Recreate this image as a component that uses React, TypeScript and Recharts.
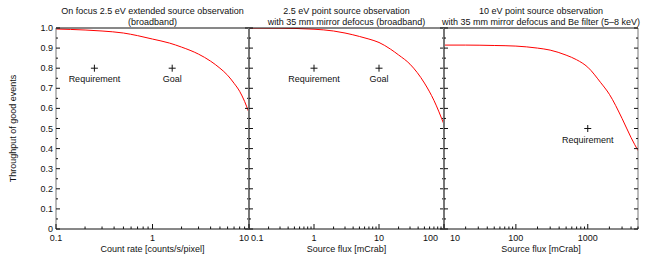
import React from "react";
import { ComposedChart, Label, Line, Scatter, XAxis, YAxis } from "recharts";

// panel 1: on focus, extended source
const p1Rate = [0.1, 0.2, 0.3, 0.5, 0.7, 1, 1.5, 2, 3, 4, 5, 6, 7, 8, 9, 10];
const p1Throughput = [0.995, 0.99, 0.985, 0.975, 0.962, 0.945, 0.925, 0.905, 0.87, 0.835, 0.8, 0.765, 0.725, 0.685, 0.635, 0.578];

// panel 2: 35 mm defocus, broadband
const p2Flux = [0.1, 0.3, 1, 2, 3, 5, 7, 10, 15, 20, 30, 50, 70, 100];
const p2Throughput = [1.0, 0.999, 0.994, 0.985, 0.975, 0.958, 0.945, 0.928, 0.895, 0.866, 0.82, 0.726, 0.64, 0.52];

// panel 3: 35 mm defocus + Be filter
const p3Flux = [10, 20, 50, 100, 200, 300, 500, 700, 1000, 1500, 2000, 3000, 4000, 5000];
const p3Throughput = [0.915, 0.915, 0.913, 0.91, 0.9, 0.89, 0.865, 0.842, 0.805, 0.73, 0.67, 0.55, 0.455, 0.39];

const p1Marks = [
  { x: 0.25, y: 0.8, label: "Requirement" },
  { x: 1.6, y: 0.8, label: "Goal" },
];
const p2Marks = [
  { x: 1, y: 0.8, label: "Requirement" },
  { x: 10, y: 0.8, label: "Goal" },
];
const p3Marks = [{ x: 1000, y: 0.5, label: "Requirement" }];

const yTicks = [0, 0.05, 0.1, 0.15, 0.2, 0.25, 0.3, 0.35, 0.4, 0.45, 0.5, 0.55, 0.6, 0.65, 0.7, 0.75, 0.8, 0.85, 0.9, 0.95, 1];
const p1Ticks = [0.1, 0.2, 0.3, 0.4, 0.5, 0.6, 0.7, 0.8, 0.9, 1, 2, 3, 4, 5, 6, 7, 8, 9, 10];
const p2Ticks = [0.1, 0.2, 0.3, 0.4, 0.5, 0.6, 0.7, 0.8, 0.9, 1, 2, 3, 4, 5, 6, 7, 8, 9, 10, 20, 30, 40, 50, 60, 70, 80, 90, 100];
const p3Ticks = [10, 20, 30, 40, 50, 60, 70, 80, 90, 100, 200, 300, 400, 500, 600, 700, 800, 900, 1000, 2000, 3000, 4000, 5000];

const FONT = "'Liberation Sans', Arial, sans-serif";
const INK = "#111";
const EDGE = "#777";

const zip = (xs: number[], ys: number[]) => xs.map((x, i) => ({ x, y: ys[i] }));

const isDecade = (v: number) => Math.abs(Math.log10(v) - Math.round(Math.log10(v))) < 1e-6;
const isTenth = (v: number) => Math.round(v * 100) % 10 === 0;

function BottomTick(props: any) {
  const { x, y, payload, first, last, anchorFirst, anchorLast, dxFirst, dxLast } = props;
  const v = payload.value;
  const major = isDecade(v);
  let anchor = "middle";
  let dx = 0;
  if (v === first) {
    anchor = anchorFirst;
    dx = dxFirst;
  }
  if (v === last) {
    anchor = anchorLast;
    dx = dxLast;
  }
  const showLabel = major && anchor !== "none";
  return (
    <g>
      <line x1={x} x2={x} y1={y} y2={y - (major ? 5 : 2.5)} stroke={INK} />
      {showLabel ? (
        <text x={x + dx} y={y + 12} textAnchor={anchor} fontSize={9} fontFamily={FONT} fill={INK}>
          {String(v)}
        </text>
      ) : null}
    </g>
  );
}

function TopTick(props: any) {
  const { x, y, payload } = props;
  const major = isDecade(payload.value);
  return <line x1={x} x2={x} y1={y} y2={y + (major ? 5 : 2.5)} stroke={INK} />;
}

function LeftTick(props: any) {
  const { x, y, payload, showLabel } = props;
  const v = payload.value;
  const major = isTenth(v);
  return (
    <g>
      <line x1={x} x2={x + (major ? 4 : 2)} y1={y} y2={y} stroke={INK} />
      {showLabel && major ? (
        <text x={x - 3} y={y + 3} textAnchor="end" fontSize={9} fontFamily={FONT} fill={INK}>
          {v === 0 ? "0" : v.toFixed(1)}
        </text>
      ) : null}
    </g>
  );
}

function RightTick(props: any) {
  const { x, y, payload } = props;
  const major = isTenth(payload.value);
  return <line x1={x} x2={x - (major ? 4 : 2)} y1={y} y2={y} stroke={INK} />;
}

function PlusMark(props: any) {
  const { cx, cy, payload } = props;
  return (
    <g>
      <line x1={cx - 3.5} x2={cx + 3.5} y1={cy} y2={cy} stroke={INK} />
      <line x1={cx} x2={cx} y1={cy - 3.5} y2={cy + 3.5} stroke={INK} />
      <text x={cx} y={cy + 14} textAnchor="middle" fontSize={9} fontFamily={FONT} fill={INK}>
        {payload.label}
      </text>
    </g>
  );
}

interface PanelProps {
  left: number;
  width: number;
  marginLeft: number;
  marginRight: number;
  data: { x: number; y: number }[];
  marks: { x: number; y: number; label: string }[];
  domain: [number, number];
  ticks: number[];
  title: [string, string];
  xLabel: string;
  anchorFirst: string;
  anchorLast: string;
  dxFirst: number;
  dxLast: number;
  leftEdge: number;
  rightEdge: number;
  yLabels?: boolean;
}

function Panel(p: PanelProps) {
  return (
    <div style={{ position: "absolute", left: p.left, top: 0 }}>
      <ComposedChart
        width={p.width}
        height={260}
        data={p.data}
        margin={{ top: 27, bottom: 30, left: p.marginLeft - 1, right: p.marginRight - 1 }}
      >
        <XAxis
          xAxisId="b"
          dataKey="x"
          type="number"
          scale="log"
          domain={p.domain}
          allowDataOverflow
          ticks={p.ticks}
          interval={0}
          height={1}
          tickSize={0}
          tickMargin={0}
          tickLine={false}
          axisLine={{ stroke: INK }}
          tick={(t: any) => (
            <BottomTick
              {...t}
              first={p.domain[0]}
              last={p.domain[1]}
              anchorFirst={p.anchorFirst}
              anchorLast={p.anchorLast}
              dxFirst={p.dxFirst}
              dxLast={p.dxLast}
            />
          )}
        >
          <Label
            content={({ viewBox }: any) => (
              <text
                x={viewBox.x + viewBox.width / 2}
                y={viewBox.y + 23}
                textAnchor="middle"
                fontSize={9}
                fontFamily={FONT}
                fill={INK}
              >
                {p.xLabel}
              </text>
            )}
          />
        </XAxis>
        <XAxis
          xAxisId="t"
          orientation="top"
          type="number"
          scale="log"
          domain={p.domain}
          allowDataOverflow
          ticks={p.ticks}
          interval={0}
          height={1}
          tickSize={0}
          tickMargin={0}
          tickLine={false}
          axisLine={{ stroke: INK }}
          tick={(t: any) => <TopTick {...t} />}
        >
          <Label
            content={({ viewBox }: any) => (
              <text textAnchor="middle" fontSize={9} fontFamily={FONT} fill={INK}>
                <tspan x={viewBox.x + viewBox.width / 2} y={viewBox.y - 13}>
                  {p.title[0]}
                </tspan>
                <tspan x={viewBox.x + viewBox.width / 2} y={viewBox.y - 2}>
                  {p.title[1]}
                </tspan>
              </text>
            )}
          />
        </XAxis>
        <YAxis
          yAxisId="l"
          type="number"
          domain={[0, 1]}
          allowDataOverflow
          ticks={yTicks}
          interval={0}
          width={1}
          tickSize={0}
          tickMargin={0}
          tickLine={false}
          axisLine={{ stroke: EDGE, strokeWidth: p.leftEdge }}
          tick={(t: any) => <LeftTick {...t} showLabel={!!p.yLabels} />}
        >
          {p.yLabels ? (
            <Label
              content={({ viewBox }: any) => {
                const tx = viewBox.x - 39;
                const ty = viewBox.y + viewBox.height / 2;
                return (
                  <text
                    x={tx}
                    y={ty}
                    transform={`rotate(-90, ${tx}, ${ty})`}
                    textAnchor="middle"
                    fontSize={9}
                    fontFamily={FONT}
                    fill={INK}
                  >
                    Throughput of good events
                  </text>
                );
              }}
            />
          ) : null}
        </YAxis>
        <YAxis
          yAxisId="r"
          orientation="right"
          type="number"
          domain={[0, 1]}
          allowDataOverflow
          ticks={yTicks}
          interval={0}
          width={1}
          tickSize={0}
          tickMargin={0}
          tickLine={false}
          axisLine={{ stroke: EDGE, strokeWidth: p.rightEdge }}
          tick={(t: any) => <RightTick {...t} />}
        />
        <Line
          xAxisId="b"
          yAxisId="l"
          dataKey="y"
          type="monotone"
          stroke="#ff0000"
          strokeWidth={1}
          dot={false}
          activeDot={false}
          isAnimationActive={false}
        />
        <Scatter
          xAxisId="b"
          yAxisId="l"
          data={p.marks}
          dataKey="y"
          shape={(s: any) => <PlusMark {...s} />}
          isAnimationActive={false}
        />
      </ComposedChart>
    </div>
  );
}

export default function App() {
  return (
    <div
      style={{
        position: "absolute",
        left: 0,
        top: 0,
        width: 659,
        height: 260,
        background: "#fff",
        fontFamily: FONT,
        overflow: "hidden",
      }}
    >
      <Panel
        left={0}
        width={259}
        marginLeft={56}
        marginRight={10}
        data={zip(p1Rate, p1Throughput)}
        marks={p1Marks}
        domain={[0.1, 10]}
        ticks={p1Ticks}
        title={["On focus 2.5 eV extended source observation", "(broadband)"]}
        xLabel="Count rate [counts/s/pixel]"
        anchorFirst="middle"
        anchorLast="end"
        dxFirst={0}
        dxLast={0}
        leftEdge={1}
        rightEdge={2}
        yLabels
      />
      <Panel
        left={199}
        width={255}
        marginLeft={50}
        marginRight={10}
        data={zip(p2Flux, p2Throughput)}
        marks={p2Marks}
        domain={[0.1, 100]}
        ticks={p2Ticks}
        title={["2.5 eV point source observation", "with 35 mm mirror defocus (broadband)"]}
        xLabel="Source flux [mCrab]"
        anchorFirst="start"
        anchorLast="end"
        dxFirst={2}
        dxLast={-6}
        leftEdge={2}
        rightEdge={2}
      />
      <Panel
        left={394}
        width={265}
        marginLeft={50}
        marginRight={21}
        data={zip(p3Flux, p3Throughput)}
        marks={p3Marks}
        domain={[10, 5000]}
        ticks={p3Ticks}
        title={["10 eV point source observation", "with 35 mm mirror defocus and Be filter (5\u20138 keV)"]}
        xLabel="Source flux [mCrab]"
        anchorFirst="start"
        anchorLast="none"
        dxFirst={6}
        dxLast={0}
        leftEdge={2}
        rightEdge={1}
      />
    </div>
  );
}
